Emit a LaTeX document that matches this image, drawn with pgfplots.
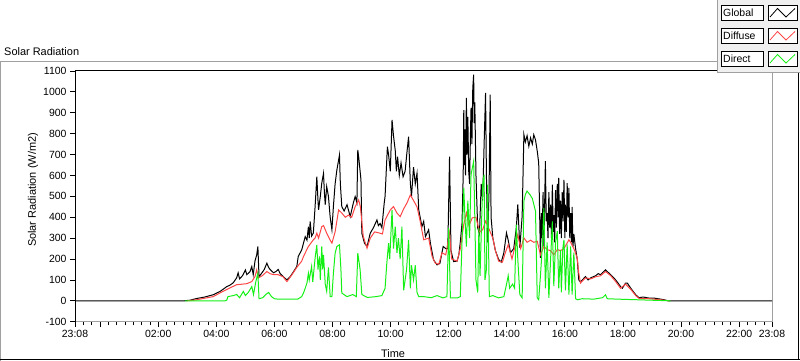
\documentclass[border=0pt]{standalone}
\usepackage{fontspec}
\setmainfont{Liberation Sans}
\usepackage{pgfplots}
\pgfplotsset{compat=1.18}
\definecolor{diffusec}{RGB}{255,70,70}
\definecolor{directc}{RGB}{20,240,20}
\definecolor{framegray}{RGB}{160,160,160}
\definecolor{panelgray}{RGB}{240,240,240}
\begin{document}
\begin{tikzpicture}[font=\fontsize{10.5}{12}\selectfont]
\path[use as bounding box] (0,0) rectangle (800bp,361bp);
\begin{scope}[x=1bp,y=1bp]
% outer frame
\draw[framegray,line width=1bp] (0,299) -- (717,299);
\draw[framegray,line width=1bp] (0.5,299) -- (0.5,0);
\draw[black,line width=1.3bp] (0,1.5) -- (800,1.5);
\draw[black,line width=1bp] (798.5,289) -- (798.5,1);
\node[anchor=base west,inner sep=0,font=\fontsize{11}{13}\selectfont] at (4,305.5) {Solar Radiation};
\node[rotate=90,inner sep=0,font=\fontsize{11}{13}\selectfont] at (33,171) {Solar Radiation (W/m2)};
\node[inner sep=0,font=\fontsize{11}{13}\selectfont] at (393,7) {Time};
\end{scope}
\begin{axis}[
  at={(75bp,39.3bp)}, anchor=south west,
  scale only axis, width=697bp, height=250.7bp,
  xmin=-0.8667, xmax=23.1333, ymin=-100, ymax=1100,
  axis line style={framegray,line width=1bp},
  tick align=outside, xtick pos=bottom, ytick pos=left,
  major tick length=5bp, minor tick length=3.5bp,
  every tick/.style={black,line width=0.8bp},
  xtick={-0.8667,0,2,4,6,8,10,12,14,16,18,20,22,23.1333},
  xticklabels={23:08,,02:00,04:00,06:00,08:00,10:00,12:00,14:00,16:00,18:00,20:00,22:00,23:08},
  minor xtick={-0.5714,-0.2857,...,23.0},
  ytick={-100,0,...,1100},
  yticklabels={-100,0,100,200,300,400,500,600,700,800,900,1000,1100},
  ticklabel style={font=\fontsize{10.5}{12}\selectfont},
  clip=true,
]
\addplot[black,line width=1bp] coordinates {
(-0.8667,0) (2.90,0) (3.10,3) (3.32,11) (3.60,18) (3.89,29) (4.13,45) (4.36,68) (4.47,75) (4.58,86) (4.70,110) (4.75,134) (4.80,105) (4.90,120) (5.00,148) (5.05,125) (5.16,140) (5.22,164) (5.27,125) (5.33,190) (5.39,220) (5.43,260) (5.47,116) (5.55,130) (5.65,150) (5.74,180) (5.80,160) (5.85,150) (5.97,134) (6.05,140) (6.13,150) (6.20,130) (6.30,116) (6.43,100) (6.54,115) (6.66,140) (6.77,164) (6.82,212) (6.94,244) (7.06,307) (7.12,290) (7.17,355) (7.20,300) (7.23,380) (7.28,310) (7.34,324) (7.40,450) (7.46,594) (7.50,480) (7.52,435) (7.58,500) (7.63,563) (7.69,610) (7.72,520) (7.75,460) (7.80,547) (7.86,500) (7.92,400) (7.98,340) (8.03,450) (8.09,560) (8.15,626) (8.21,674) (8.24,698) (8.27,560) (8.32,451) (8.40,430) (8.50,460) (8.61,403) (8.72,470) (8.78,499) (8.84,470) (8.87,722) (8.90,690) (8.98,579) (9.01,324) (9.10,276) (9.19,260) (9.30,324) (9.41,350) (9.53,387) (9.58,360) (9.64,370) (9.70,350) (9.78,467) (9.81,500) (9.89,738) (9.93,700) (9.99,620) (10.05,866) (10.10,790) (10.16,720) (10.20,620) (10.24,690) (10.30,600) (10.36,660) (10.43,594) (10.50,620) (10.57,720) (10.62,786) (10.68,563) (10.72,500) (10.79,640) (10.85,560) (10.91,610) (10.97,435) (11.08,355) (11.14,380) (11.20,307) (11.31,340) (11.37,276) (11.48,196) (11.60,172) (11.70,180) (11.81,260) (11.90,250) (11.97,250) (12.03,690) (12.08,240) (12.17,188) (12.29,190) (12.35,220) (12.40,280) (12.46,371) (12.50,600) (12.52,913) (12.54,650) (12.56,820) (12.58,600) (12.61,971) (12.63,700) (12.66,880) (12.69,620) (12.72,560) (12.75,800) (12.77,923) (12.80,750) (12.83,1019) (12.86,1082) (12.88,850) (12.90,950) (12.94,600) (13.00,349) (13.06,320) (13.12,560) (13.17,480) (13.22,748) (13.27,995) (13.30,600) (13.34,280) (13.39,520) (13.43,987) (13.46,400) (13.52,301) (13.61,240) (13.72,198) (13.81,185) (13.90,230) (13.99,325) (14.05,290) (14.13,230) (14.24,250) (14.33,350) (14.38,461) (14.45,253) (14.53,406) (14.59,795) (14.64,760) (14.70,790) (14.76,740) (14.82,780) (14.88,750) (14.93,795) (14.99,770) (15.05,716) (15.10,660) (15.16,206) (15.19,420) (15.22,300) (15.25,520) (15.28,260) (15.33,668) (15.36,380) (15.39,420) (15.42,300) (15.45,520) (15.48,350) (15.51,460) (15.54,300) (15.57,556) (15.60,330) (15.62,410) (15.65,280) (15.68,530) (15.71,350) (15.74,560) (15.77,400) (15.79,588) (15.82,320) (15.85,480) (15.88,300) (15.91,520) (15.94,380) (15.97,579) (16.00,300) (16.02,460) (16.05,330) (16.08,563) (16.11,400) (16.14,540) (16.17,300) (16.20,420) (16.23,280) (16.25,450) (16.28,260) (16.31,320) (16.37,250) (16.43,196) (16.48,100) (16.54,90) (16.71,116) (16.80,100) (16.89,110) (17.06,120) (17.15,130) (17.23,125) (17.30,135) (17.40,148) (17.46,140) (17.58,125) (17.75,100) (17.92,68) (17.98,60) (18.09,85) (18.15,85) (18.27,60) (18.44,29) (18.55,15) (18.70,18) (18.90,13) (19.07,13) (19.30,8) (19.42,5) (19.55,0) (23.1333,0)
};
\addplot[diffusec,line width=1bp] coordinates {
(3.00,0) (3.32,5) (3.89,20) (4.13,38) (4.47,62) (4.70,77) (5.05,82) (5.22,92) (5.33,116) (5.39,148) (5.45,110) (5.58,120) (5.74,140) (5.85,130) (5.97,125) (6.13,125) (6.30,115) (6.43,92) (6.60,124) (6.77,160) (6.94,190) (7.00,212) (7.17,260) (7.34,292) (7.40,300) (7.46,324) (7.52,300) (7.63,355) (7.69,360) (7.80,324) (7.92,290) (7.98,276) (8.09,330) (8.21,435) (8.32,420) (8.44,400) (8.55,410) (8.66,400) (8.78,450) (8.90,483) (8.96,450) (9.06,307) (9.19,252) (9.30,300) (9.45,330) (9.60,325) (9.72,320) (9.81,387) (9.99,435) (10.10,451) (10.22,420) (10.33,403) (10.45,440) (10.57,470) (10.68,507) (10.79,480) (10.91,450) (11.02,380) (11.14,292) (11.31,300) (11.43,212) (11.54,180) (11.66,175) (11.77,230) (11.90,220) (12.03,325) (12.10,200) (12.29,190) (12.40,250) (12.52,365) (12.61,421) (12.70,360) (12.81,397) (12.94,400) (13.06,330) (13.17,340) (13.27,381) (13.34,360) (13.43,330) (13.52,300) (13.61,240) (13.72,190) (13.85,185) (13.95,230) (14.05,269) (14.18,200) (14.38,317) (14.48,250) (14.59,301) (14.70,280) (14.82,290) (14.93,280) (15.05,285) (15.16,220) (15.28,260) (15.39,245) (15.51,240) (15.62,220) (15.74,245) (15.85,240) (15.97,250) (16.08,277) (16.14,292) (16.20,280) (16.31,250) (16.37,228) (16.43,200) (16.48,132) (16.54,85) (16.71,110) (16.89,105) (17.06,115) (17.23,120) (17.40,140) (17.58,120) (17.75,92) (17.92,60) (18.09,80) (18.27,55) (18.44,25) (18.55,12) (18.90,10) (19.30,5) (19.60,0)
};
\addplot[directc,line width=1bp] coordinates {
(2.92,0) (4.30,0) (4.36,3) (4.40,20) (4.58,25) (4.70,30) (4.80,15) (4.93,45) (5.00,25) (5.10,40) (5.22,68) (5.28,30) (5.36,92) (5.43,132) (5.47,10) (5.60,15) (5.70,30) (5.80,40) (5.90,20) (6.00,10) (6.13,8) (6.50,8) (6.80,8) (6.94,20) (7.00,37) (7.06,60) (7.12,85) (7.17,132) (7.20,100) (7.28,164) (7.32,90) (7.40,204) (7.46,268) (7.50,150) (7.55,212) (7.58,100) (7.63,260) (7.66,150) (7.69,220) (7.75,80) (7.80,45) (7.86,160) (7.92,20) (7.98,20) (8.03,130) (8.09,228) (8.15,260) (8.24,268) (8.29,150) (8.32,37) (8.50,20) (8.70,30) (8.82,20) (8.87,228) (8.95,150) (9.01,30) (9.20,16) (9.50,20) (9.70,25) (9.81,60) (9.87,180) (9.93,276) (9.97,200) (10.05,435) (10.10,250) (10.16,355) (10.22,230) (10.27,300) (10.33,200) (10.39,355) (10.45,50) (10.55,150) (10.62,292) (10.68,60) (10.72,170) (10.79,100) (10.85,170) (10.91,40) (10.97,20) (11.14,20) (11.40,15) (11.60,25) (11.80,14) (11.94,20) (12.00,349) (12.06,14) (12.30,14) (12.40,20) (12.46,285) (12.52,540) (12.56,400) (12.61,260) (12.66,480) (12.72,300) (12.77,604) (12.86,668) (12.90,400) (12.94,100) (13.00,40) (13.04,349) (13.08,120) (13.17,556) (13.22,604) (13.25,100) (13.30,150) (13.34,556) (13.40,20) (13.52,25) (13.72,14) (13.90,20) (13.99,78) (14.05,120) (14.10,60) (14.20,80) (14.27,60) (14.33,365) (14.38,200) (14.45,30) (14.53,14) (14.59,477) (14.64,508) (14.70,525) (14.80,508) (14.88,490) (14.99,429) (15.05,14) (15.10,5) (15.16,120) (15.22,250) (15.28,445) (15.33,60) (15.39,280) (15.45,14) (15.51,200) (15.57,380) (15.62,70) (15.68,280) (15.74,333) (15.79,60) (15.85,244) (15.88,40) (15.93,250) (15.97,292) (16.02,50) (16.08,270) (16.14,30) (16.20,260) (16.25,30) (16.31,230) (16.37,10) (16.43,5) (16.60,10) (17.00,8) (17.30,15) (17.40,29) (17.46,10) (17.80,8) (18.50,5) (19.64,0)
};
\draw[black,line width=1bp] (rel axis cs:0,0) -- (rel axis cs:0,1) -- (rel axis cs:1,1);
\end{axis}
% legend panel
\begin{scope}[x=1bp,y=1bp]
\fill[panelgray] (717,289) rectangle (800,361);
\draw[framegray,line width=0.8bp] (717,361) -- (717,289) -- (800,289);
\foreach \yb/\lab/\col in {341/Global/black,318/Diffuse/diffusec,295/Direct/directc}{
  \draw[fill=white,draw=black,line width=0.8bp] (721,\yb) rectangle (763,\yb+15);
  \node[anchor=west,inner sep=0] at (723,\yb+7.5) {\lab};
  \draw[fill=white,draw=black,line width=0.8bp] (768,\yb) rectangle (797,\yb+15);
  \draw[\col,line width=0.8bp] (770,\yb+3) -- (777.5,\yb+11.5) -- (786,\yb+3) -- (795,\yb+11.5);
}
\end{scope}
\end{tikzpicture}
\end{document}
